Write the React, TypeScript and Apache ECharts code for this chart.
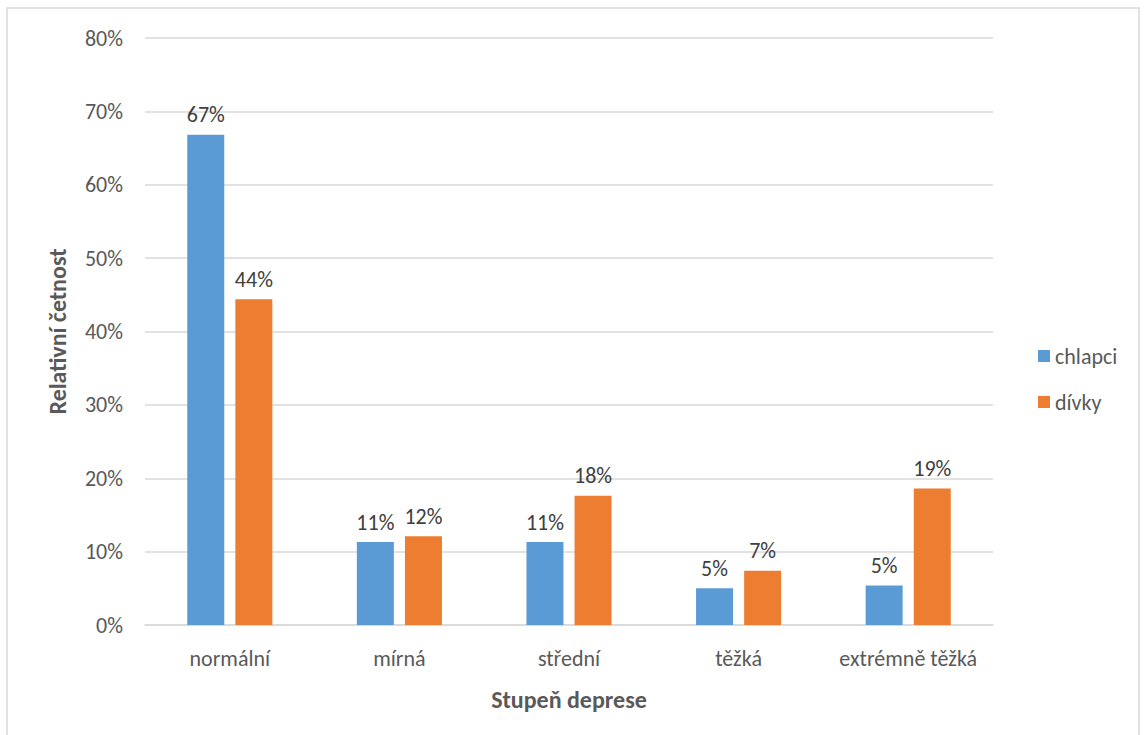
import React, { useEffect, useRef } from "react";
import * as echarts from "echarts";

const categories = ["normální", "mírná", "střední", "těžká", "extrémně těžká"];
const chlapci = [66.8, 11.3, 11.3, 5.0, 5.4];
const divky = [44.4, 12.1, 17.6, 7.4, 18.6];
const seriesNames = ["chlapci", "dívky"];
const yTicks = [0, 10, 20, 30, 40, 50, 60, 70, 80];

const FONT = "Carlito, Lato, 'Liberation Sans', sans-serif";
const TEXT = "#595959";

export default function App() {
  const ref = useRef<HTMLDivElement>(null);
  useEffect(() => {
    if (!ref.current) return;
    const chart = echarts.init(ref.current, undefined, { renderer: "svg" });
    const label = {
      show: true,
      position: "top",
      distance: 9,
      color: "#404040",
      fontFamily: FONT,
      fontSize: 22,
      formatter: (p: any) => Math.round(p.value) + "%",
    };
    chart.setOption({
      animation: false,
      backgroundColor: "#ffffff",
      textStyle: { fontFamily: FONT },
      graphic: [
        {
          type: "rect",
          shape: { x: 7, y: 8, width: 1132, height: 740 },
          style: { fill: "none", stroke: "#D9D9D9", lineWidth: 1.5 },
          silent: true,
          z: -10,
        },
      ],
      grid: { left: 145, right: 154, top: 38, bottom: 110, containLabel: false },
      legend: {
        orient: "vertical",
        left: 1033,
        top: 340,
        itemWidth: 12,
        itemHeight: 12,
        itemGap: 24,
        icon: "rect",
        textStyle: { color: TEXT, fontSize: 22, fontFamily: FONT },
        data: seriesNames,
      },
      xAxis: {
        type: "category",
        data: categories,
        name: "Stupeň deprese",
        nameLocation: "middle",
        nameGap: 62,
        nameTextStyle: { color: TEXT, fontSize: 24, fontWeight: "bold", fontFamily: FONT },
        axisLine: { lineStyle: { color: "#D9D9D9", width: 1.5 } },
        axisTick: { show: false },
        axisLabel: { color: TEXT, fontSize: 22, margin: 22, interval: 0, fontFamily: FONT },
      },
      yAxis: {
        type: "value",
        min: yTicks[0],
        max: yTicks[yTicks.length - 1],
        interval: 10,
        name: "Relativní četnost",
        nameLocation: "middle",
        nameGap: 76,
        nameTextStyle: { color: TEXT, fontSize: 24, fontWeight: "bold", fontFamily: FONT },
        axisLine: { show: false },
        axisTick: { show: false },
        axisLabel: { color: TEXT, fontSize: 22, margin: 22, fontFamily: FONT, formatter: "{value}%" },
        splitLine: { lineStyle: { color: "#D9D9D9", width: 1.5 } },
      },
      series: [
        {
          name: seriesNames[0],
          type: "bar",
          data: chlapci,
          barWidth: 37,
          barGap: "30%",
          itemStyle: { color: "#5B9BD5" },
          label,
        },
        {
          name: seriesNames[1],
          type: "bar",
          data: divky,
          barWidth: 37,
          barGap: "30%",
          itemStyle: { color: "#ED7D31" },
          label,
        },
      ],
    });
    return () => chart.dispose();
  }, []);
  return (
    <div
      ref={ref}
      style={{ position: "absolute", left: 0, top: 0, width: 1147, height: 735 }}
    />
  );
}
